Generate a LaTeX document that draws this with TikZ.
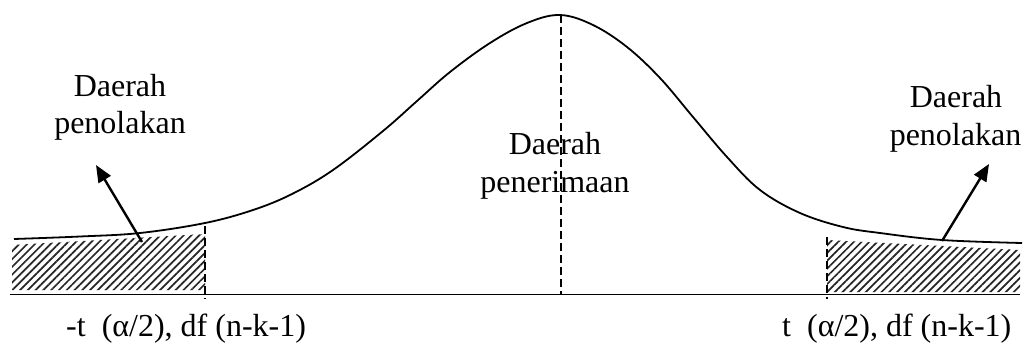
\documentclass[tikz,border=0pt]{standalone}
\usepackage{fontspec}
\setmainfont{Liberation Serif}
\usetikzlibrary{patterns.meta,arrows.meta}
\tikzset{
  lbl/.style={inner sep=0pt, anchor=base, font=\fontsize{32}{38}\selectfont},
  lblw/.style={inner sep=0pt, anchor=base west, font=\fontsize{32}{38}\selectfont},
  curveline/.style={line width=1.8pt},
  axisline/.style={line width=1.8pt},
  dashline/.style={line width=1.5pt, dash pattern=on 8pt off 4pt},
  hatch/.style={pattern={Lines[angle=45,distance=5.5pt,line width=1.7pt]}, pattern color=black!85},
  pointer/.style={line width=2.4pt, -{Triangle[length=17pt,width=14pt]}}
}
\begin{document}
\begin{tikzpicture}[x=1pt,y=-1pt]
\useasboundingbox (0,0) rectangle (1024,349);
% hatched rejection areas
\fill[hatch] (12,245) -- (205,234) -- (205,290) -- (12,290) -- cycle;
\fill[hatch] (827,240) -- (1020,250) -- (1020,292) -- (827,292) -- cycle;
% axis
\coordinate (axL) at (10,294.5);
\coordinate (axR) at (1020,294.5);
\draw[axisline] (axL) -- (axR);
% bell curve
\draw[curveline] plot[smooth, tension=0.6] coordinates {
 (14,239) (80,236.5) (140,233) (205,223) (253,210) (292,194)
 (333,170) (383,131) (417,101) (450,72) (490,43) (527,23) (560,15) (593,25)
 (627,47) (660,78) (693,117) (727,157) (760,190) (800,213) (843,227)
 (880,233) (942,240) (1022,243)};
% dashed verticals
\coordinate (dLt) at (205,226);
\coordinate (dLb) at (205,299);
\coordinate (dCt) at (561,15);
\coordinate (dCb) at (561,294);
\coordinate (dRt) at (827,237);
\coordinate (dRb) at (827,299);
\draw[dashline] (dLt) -- (dLb);
\draw[dashline] (dCt) -- (dCb);
\draw[dashline] (dRt) -- (dRb);
% labels
\node[lbl] (lD) at (120,96) {Daerah};
\node[lbl] (lP) at (120,133) {penolakan};
\node[lbl] (rD) at (956,107) {Daerah};
\node[lbl] (rP) at (955.5,145) {penolakan};
\node[lbl] (cD) at (555,154) {Daerah};
\node[lbl] (cP) at (555,192) {penerimaan};
\node[lblw] (tL) at (66,336) {-t\ \ (α/2), df (n-k-1)};
\node[lblw] (tR) at (782,336) {t\ \ (α/2), df (n-k-1)};
% arrows
\coordinate (aLs) at (142,242);
\coordinate (aLe) at (96,165);
\coordinate (aRs) at (942,241);
\coordinate (aRe) at (989,164);
\draw[pointer] (aLs) -- (aLe);
\draw[pointer] (aRs) -- (aRe);
\end{tikzpicture}
\end{document}
